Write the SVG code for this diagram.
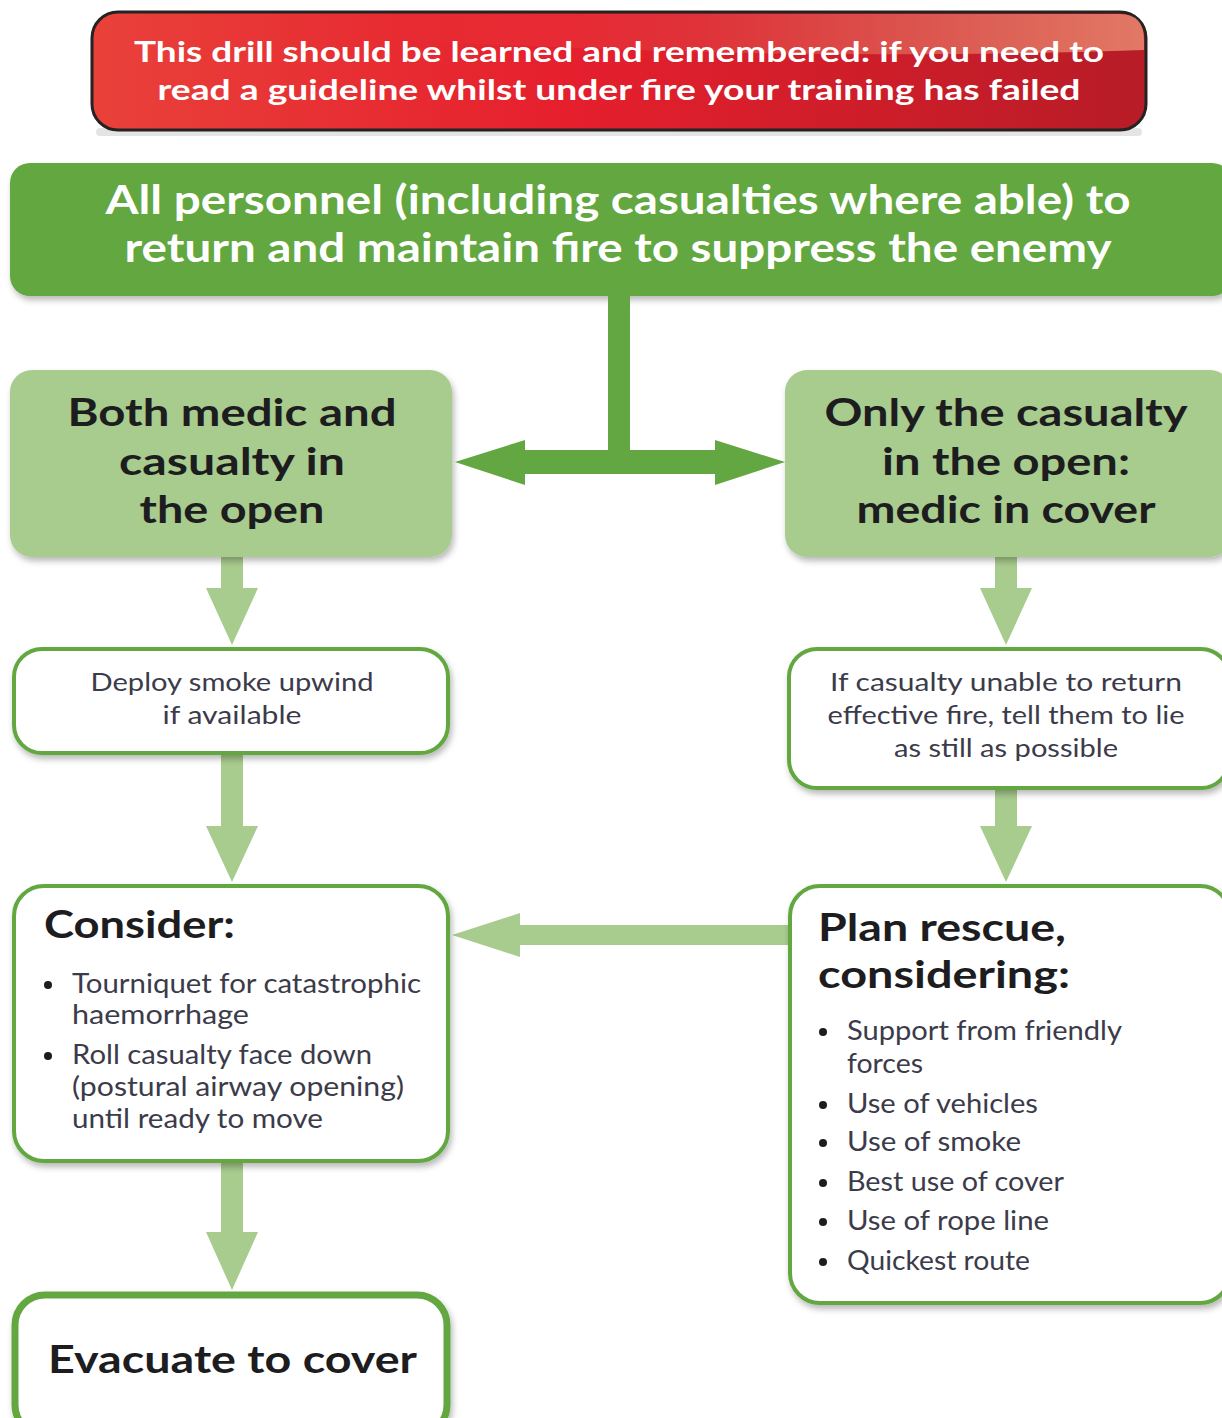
<svg xmlns="http://www.w3.org/2000/svg" width="1222" height="1418" viewBox="0 0 1222 1418">
<defs>
<linearGradient id="redg" x1="0" y1="0" x2="1" y2="0">
<stop offset="0" stop-color="#e9413a"/>
<stop offset="0.45" stop-color="#e61f2d"/>
<stop offset="1" stop-color="#b71c27"/>
</linearGradient>
<linearGradient id="gloss" x1="0" y1="0" x2="1" y2="0">
<stop offset="0" stop-color="#f5a080" stop-opacity="0"/>
<stop offset="0.4" stop-color="#f5a080" stop-opacity="0.15"/>
<stop offset="1" stop-color="#f5a080" stop-opacity="0.7"/>
</linearGradient>
<filter id="sh" x="-10%" y="-10%" width="120%" height="130%">
<feDropShadow dx="2" dy="4" stdDeviation="3" flood-color="#000" flood-opacity="0.28"/>
</filter>
<style>
.t{font-family:Lato,"Open Sans","Liberation Sans",sans-serif;}
.wb{fill:#ffffff;font-weight:700;}
.hd{fill:#1d1d1f;font-weight:700;}
.bd{fill:#3b3b4a;font-weight:400;}
.dk{fill:#62a741;}
.lt{fill:#a8cb8e;}
.wbox{fill:#ffffff;stroke:#62a741;stroke-width:4;}
</style>
</defs>
<rect width="1222" height="1418" fill="#ffffff"/>

<g id="banner">
<rect x="96" y="128" width="1046" height="8" rx="4" fill="#d8d8d8" opacity="0.7"/>
<rect x="92" y="12" width="1054" height="118" rx="26" fill="url(#redg)" stroke="#232323" stroke-width="3"/>
<path d="M400 14 L1120 14 Q1144 14 1144 40 L1144 50 Q800 62 400 40 Z" fill="url(#gloss)"/>
<text class="t wb" x="619" y="62" font-size="28" text-anchor="middle" textLength="970" lengthAdjust="spacingAndGlyphs">This drill should be learned and remembered: if you need to</text>
<text class="t wb" x="619" y="100" font-size="28" text-anchor="middle" textLength="923" lengthAdjust="spacingAndGlyphs">read a guideline whilst under fire your training has failed</text>
</g>

<g id="top">
<rect x="10" y="163" width="1222" height="133" rx="20" class="dk" filter="url(#sh)"/>
<text class="t wb" x="618" y="214" font-size="40" text-anchor="middle" textLength="1025" lengthAdjust="spacingAndGlyphs">All personnel (including casualties where able) to</text>
<text class="t wb" x="618" y="262" font-size="40" text-anchor="middle" textLength="987" lengthAdjust="spacingAndGlyphs">return and maintain fire to suppress the enemy</text>
</g>

<g id="connectors">
<path class="dk" d="M608 296 H630 V450 H715 V440 L785 462 L715 485 V474 H525 V485 L455 462 L525 440 V450 H608 Z"/>
<path class="lt" d="M221 557 H243 V588 H258 L232 645 L206 588 H221 Z"/>
<path class="lt" d="M995 557 H1017 V588 H1032 L1006 645 L980 588 H995 Z"/>
<path class="lt" d="M221 755 H243 V826 H258 L232 882 L206 826 H221 Z"/>
<path class="lt" d="M995 790 H1017 V826 H1032 L1006 882 L980 826 H995 Z"/>
<path class="lt" d="M788 925 V945 H520 V957 L452 935 L520 913 V925 Z"/>
<path class="lt" d="M221 1163 H243 V1232 H258 L232 1290 L206 1232 H221 Z"/>
</g>

<g id="both">
<rect x="10" y="370" width="442" height="187" rx="22" class="lt" filter="url(#sh)"/>
<text class="t hd" x="232" y="426" font-size="38" text-anchor="middle" textLength="329" lengthAdjust="spacingAndGlyphs">Both medic and</text>
<text class="t hd" x="232" y="475" font-size="38" text-anchor="middle" textLength="226" lengthAdjust="spacingAndGlyphs">casualty in</text>
<text class="t hd" x="232" y="523" font-size="38" text-anchor="middle" textLength="185" lengthAdjust="spacingAndGlyphs">the open</text>
</g>

<g id="only">
<rect x="785" y="370" width="447" height="187" rx="22" class="lt" filter="url(#sh)"/>
<text class="t hd" x="1006" y="426" font-size="38" text-anchor="middle" textLength="363" lengthAdjust="spacingAndGlyphs">Only the casualty</text>
<text class="t hd" x="1006" y="475" font-size="38" text-anchor="middle" textLength="248" lengthAdjust="spacingAndGlyphs">in the open:</text>
<text class="t hd" x="1006" y="523" font-size="38" text-anchor="middle" textLength="299" lengthAdjust="spacingAndGlyphs">medic in cover</text>
</g>

<g id="smoke">
<rect x="14" y="649" width="434" height="104" rx="28" class="wbox" filter="url(#sh)"/>
<text class="t bd" x="232" y="691" font-size="25" text-anchor="middle" textLength="283" lengthAdjust="spacingAndGlyphs">Deploy smoke upwind</text>
<text class="t bd" x="232" y="724" font-size="25" text-anchor="middle" textLength="139" lengthAdjust="spacingAndGlyphs">if available</text>
</g>

<g id="lie">
<rect x="789" y="649" width="440" height="139" rx="28" class="wbox" filter="url(#sh)"/>
<text class="t bd" x="1006" y="691" font-size="25" text-anchor="middle" textLength="352" lengthAdjust="spacingAndGlyphs">If casualty unable to return</text>
<text class="t bd" x="1006" y="724" font-size="25" text-anchor="middle" textLength="357" lengthAdjust="spacingAndGlyphs">effective fire, tell them to lie</text>
<text class="t bd" x="1006" y="757" font-size="25" text-anchor="middle" textLength="224" lengthAdjust="spacingAndGlyphs">as still as possible</text>
</g>

<g id="consider">
<rect x="14" y="886" width="434" height="275" rx="30" class="wbox" filter="url(#sh)"/>
<text class="t hd" x="44" y="938" font-size="38" textLength="191" lengthAdjust="spacingAndGlyphs">Consider:</text>
<circle cx="48" cy="985" r="4" fill="#1d1d1f"/>
<circle cx="48" cy="1056" r="4" fill="#1d1d1f"/>
<text class="t bd" x="72" y="993" font-size="26" textLength="349" lengthAdjust="spacingAndGlyphs">Tourniquet for catastrophic</text>
<text class="t bd" x="72" y="1024" font-size="26" textLength="177" lengthAdjust="spacingAndGlyphs">haemorrhage</text>
<text class="t bd" x="72" y="1064" font-size="26" textLength="300" lengthAdjust="spacingAndGlyphs">Roll casualty face down</text>
<text class="t bd" x="72" y="1096" font-size="26" textLength="332" lengthAdjust="spacingAndGlyphs">(postural airway opening)</text>
<text class="t bd" x="72" y="1128" font-size="26" textLength="251" lengthAdjust="spacingAndGlyphs">until ready to move</text>
</g>

<g id="plan">
<rect x="790" y="886" width="440" height="417" rx="30" class="wbox" filter="url(#sh)"/>
<text class="t hd" x="818" y="941" font-size="38" textLength="248" lengthAdjust="spacingAndGlyphs">Plan rescue,</text>
<text class="t hd" x="818" y="988" font-size="38" textLength="252" lengthAdjust="spacingAndGlyphs">considering:</text>
<circle cx="823" cy="1032" r="4" fill="#1d1d1f"/>
<circle cx="823" cy="1105" r="4" fill="#1d1d1f"/>
<circle cx="823" cy="1143" r="4" fill="#1d1d1f"/>
<circle cx="823" cy="1183" r="4" fill="#1d1d1f"/>
<circle cx="823" cy="1222" r="4" fill="#1d1d1f"/>
<circle cx="823" cy="1262" r="4" fill="#1d1d1f"/>
<text class="t bd" x="847" y="1040" font-size="26" textLength="275" lengthAdjust="spacingAndGlyphs">Support from friendly</text>
<text class="t bd" x="847" y="1073" font-size="26" textLength="76" lengthAdjust="spacingAndGlyphs">forces</text>
<text class="t bd" x="847" y="1113" font-size="26" textLength="191" lengthAdjust="spacingAndGlyphs">Use of vehicles</text>
<text class="t bd" x="847" y="1151" font-size="26" textLength="174" lengthAdjust="spacingAndGlyphs">Use of smoke</text>
<text class="t bd" x="847" y="1191" font-size="26" textLength="217" lengthAdjust="spacingAndGlyphs">Best use of cover</text>
<text class="t bd" x="847" y="1230" font-size="26" textLength="202" lengthAdjust="spacingAndGlyphs">Use of rope line</text>
<text class="t bd" x="847" y="1270" font-size="26" textLength="183" lengthAdjust="spacingAndGlyphs">Quickest route</text>
</g>

<g id="evacuate">
<rect x="15" y="1295" width="432" height="140" rx="30" fill="#ffffff" stroke="#62a741" stroke-width="7" filter="url(#sh)"/>
<text class="t hd" x="48" y="1373" font-size="38" textLength="369" lengthAdjust="spacingAndGlyphs">Evacuate to cover</text>
</g>
</svg>
